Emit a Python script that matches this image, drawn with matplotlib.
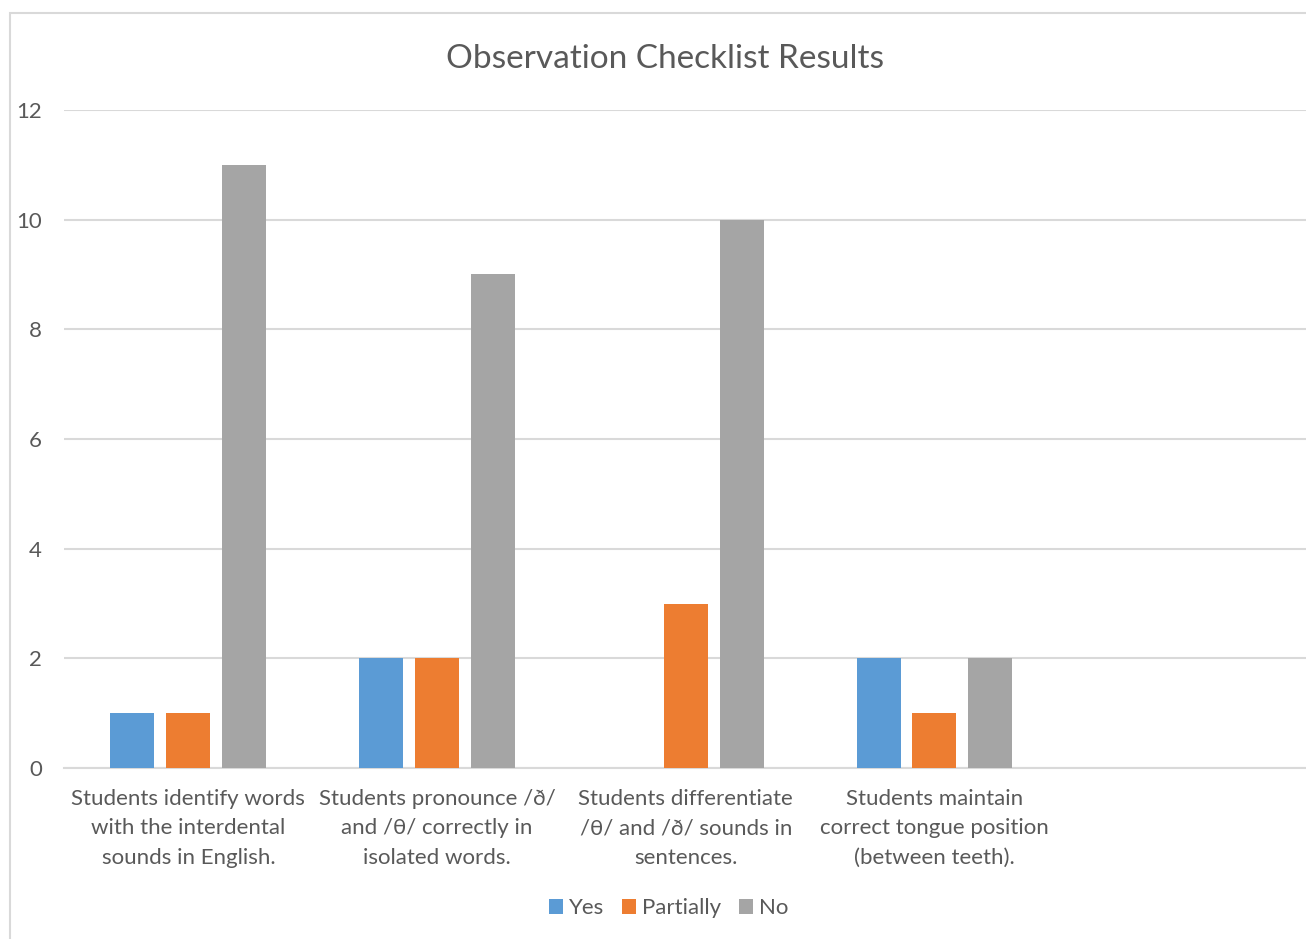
import matplotlib.pyplot as plt
from matplotlib.patches import Rectangle
import numpy as np

categories = [
    "Students identify words\nwith the interdental\nsounds in English.",
    "Students pronounce /ð/\nand /θ/ correctly in\nisolated words.",
    "Students differentiate\n/θ/ and /ð/ sounds in\nsentences.",
    "Students maintain\ncorrect tongue position\n(between teeth).",
    "",
]
yes = [1, 2, 0, 2, np.nan]
partially = [1, 2, 3, 1, np.nan]
no = [11, 9, 10, 2, np.nan]

series = [("Yes", yes, "#5B9BD5"),
          ("Partially", partially, "#ED7D31"),
          ("No", no, "#A5A5A5")]

plt.rcParams['font.family'] = ['Lato', 'DejaVu Sans']
txt = "#595959"
grid = "#D9D9D9"

fig = plt.figure(figsize=(13.06, 9.39), dpi=100)
# chart frame
fig.patches.append(Rectangle((10/1306, -0.01), 1.01, 1 - 13/939 + 0.01,
                             transform=fig.transFigure, fill=False,
                             edgecolor=grid, lw=1.5))

ax = fig.add_axes([64/1306, 1 - 768/939, 1243.5/1306, (768 - 110)/939])

x = np.arange(len(categories))
w = 0.177
step = w * 1.27
for i, (name, vals, col) in enumerate(series):
    ax.bar(x + (i - 1) * step, vals, w, color=col, label=name, zorder=3)

ax.set_xlim(-0.5, len(categories) - 0.5)
ax.set_ylim(0, 12)
ax.set_yticks(range(0, 13, 2))
ax.yaxis.grid(True, color=grid, lw=1.5, zorder=0)
for s in ["top", "right", "left"]:
    ax.spines[s].set_visible(False)
ax.spines["bottom"].set_color(grid)
ax.spines["bottom"].set_linewidth(1.5)
ax.tick_params(axis="both", length=0, colors=txt, labelsize=16)
ax.tick_params(axis="y", pad=16)
ax.tick_params(axis="x", pad=15)
ax.set_xticks(x)
ax.set_xticklabels(categories, linespacing=1.6)

fig.text(0.509, 1 - 59/939, "Observation Checklist Results", ha="center",
         va="center", fontsize=24, color=txt)

fig.legend(loc="center", bbox_to_anchor=(0.512, 1 - 908/939), ncol=3,
           frameon=False, fontsize=16, labelcolor=txt, handlelength=0.65,
           handleheight=0.65, handletextpad=0.25, columnspacing=0.8)

fig.savefig("out.png", dpi=100)
